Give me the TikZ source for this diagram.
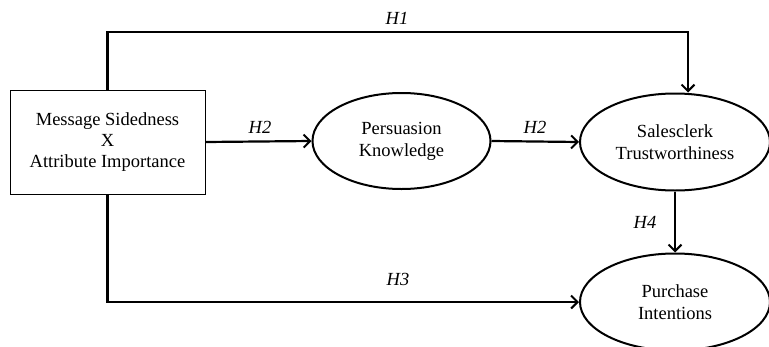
\documentclass[tikz,border=0pt]{standalone}
\usepackage{fontspec}
\setmainfont{Liberation Serif}
\usetikzlibrary{arrows.meta,shapes.geometric}
\begin{document}
\begin{tikzpicture}[x=1pt,y=-1pt,line width=2.2pt,
  >={Straight Barb[length=6.5pt,width=13pt,line width=2pt]},
  construct/.style={ellipse,draw,line width=2pt,minimum width=178pt,minimum height=96pt,
    inner sep=0pt,align=center,font=\fontsize{18.5}{22}\selectfont},
  hyp/.style={font=\itshape\fontsize{18.5}{22}\selectfont}]
\useasboundingbox (0,0) rectangle (769,346);
\node [draw,line width=0.8pt,minimum width=195pt,minimum height=104pt,inner sep=0pt,
  align=center,font=\fontsize{18.5}{21}\selectfont] (msg) at (107.5,142)
  {Message Sidedness\\X\\Attribute Importance};
\node [construct] (know) at (401.5,141) {Persuasion\\Knowledge};
\node [construct,minimum width=190pt,minimum height=97pt] (trust) at (675,142) {Salesclerk\\Trustworthiness};
\node [construct,minimum width=190pt,minimum height=97pt] (buy) at (675,302) {Purchase\\Intentions};
\coordinate (turn) at (688,32);
% paths
\draw [->] (msg.north) |- (turn) -- (trust.north -| turn);
\draw [->] (msg.east) -- (know.west);
\draw [->] (know.east) -- (trust.west);
\draw [->] (trust.south) -- (buy.north);
\draw [->] (msg.south) |- (buy.west);
% labels
\node [hyp] (h1) at (397,18) {H1};
\node [hyp] (h2a) at (260,127) {H2};
\node [hyp] (h2b) at (535,127) {H2};
\node [hyp] (h4) at (645,222) {H4};
\node [hyp] (h3) at (398,279) {H3};
\end{tikzpicture}
\end{document}
